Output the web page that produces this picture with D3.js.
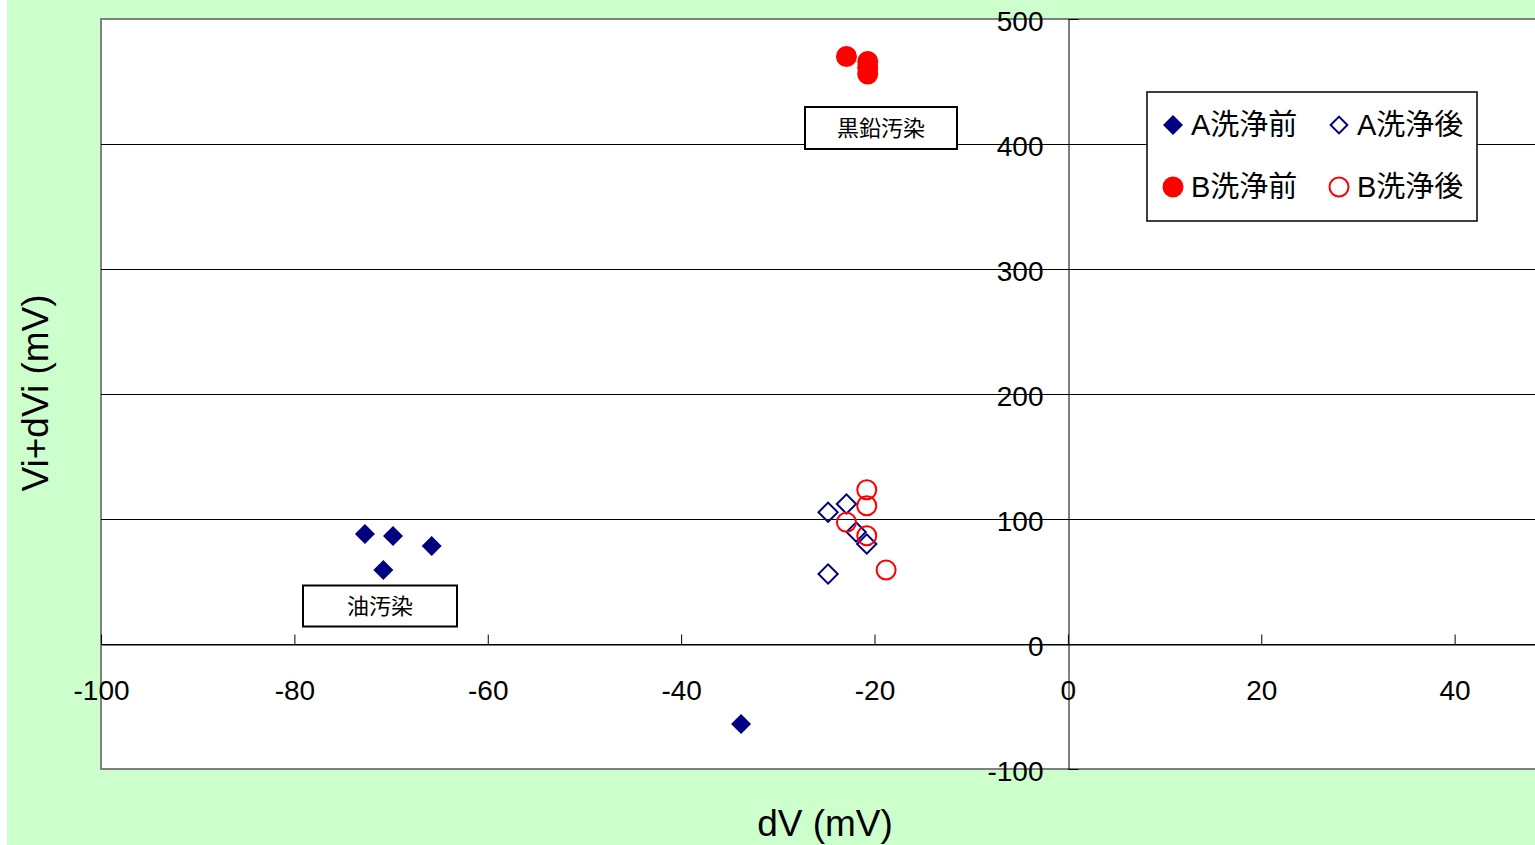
<html>
<head>
<meta charset="utf-8">
<script src="https://d3js.org/d3.v7.min.js"></script>
<style>
  body { margin: 0; background: #fff; overflow: hidden; }
  text { font-family: "Liberation Sans", Arial, "Noto Sans CJK JP", sans-serif; }
</style>
</head>
<body>
<svg id="chart" width="1535" height="845"></svg>
<script>
// data (dV, Vi+dVi)
var aBeforeX = [-72.7, -69.8, -65.8, -70.8, -33.8];
var aBeforeY = [88, 86.4, 78.4, 59.2, -64];
var aAfterX = [-24.8, -22.9, -21.9, -20.8, -24.8];
var aAfterY = [105.4, 112, 89.6, 80, 56];
var bBeforeX = [-22.9, -20.7, -20.7, -20.7];
var bBeforeY = [470, 466, 461, 456];
var bAfterX = [-20.8, -20.8, -22.9, -20.8, -18.8];
var bAfterY = [123.4, 110.6, 97.4, 86.6, 59.2];
var xTicks = [-100, -80, -60, -40, -20, 0, 20, 40];
var yTicks = [-100, 0, 100, 200, 300, 400, 500];
var legendNames = ["A洗浄前", "A洗浄後", "B洗浄前", "B洗浄後"];

var navy = "#000080", red = "#ff0000";
var svg = d3.select("#chart");

// green chart background
svg.append("rect").attr("x", 7).attr("y", 0).attr("width", 1528).attr("height", 845)
  .attr("fill", "#ccffcc");

// x runs to 60, past the right edge of the window
var x = d3.scaleLinear().domain([-100, 60]).range([101, 1648]);
var y = d3.scaleLinear().domain([-100, 500]).range([769, 19]);

// plot area
svg.append("rect").attr("x", x(-100)).attr("y", y(500))
  .attr("width", x(60) - x(-100)).attr("height", y(-100) - y(500))
  .attr("fill", "#fff").attr("stroke", "#808080").attr("stroke-width", 2);

// horizontal grid
svg.append("g").selectAll("line").data(yTicks.filter(function(d) { return d > -100 && d < 500; }))
  .enter().append("line")
  .attr("x1", x(-100)).attr("x2", x(60))
  .attr("y1", function(d) { return Math.round(y(d)) + 0.5; })
  .attr("y2", function(d) { return Math.round(y(d)) + 0.5; })
  .attr("stroke", "#000").attr("stroke-width", 1);

// axes cross at 0
var xAxis = d3.axisBottom(x).tickValues(xTicks).tickSizeInner(-10).tickSizeOuter(0).tickPadding(36)
  .tickFormat(d3.format("d"));
var gx = svg.append("g").attr("transform", "translate(0," + (Math.round(y(0)) + 0.5) + ")").call(xAxis);
var yAxis = d3.axisLeft(y).tickValues(yTicks).tickSizeInner(-10).tickSizeOuter(0).tickPadding(25)
  .tickFormat(d3.format("d"));
var gy = svg.append("g").attr("transform", "translate(" + (Math.round(x(0)) + 0.5) + ",0)").call(yAxis);

[gx, gy].forEach(function(g) {
  g.selectAll("path, line").attr("stroke", "#000").attr("stroke-width", 1);
  g.selectAll("text").attr("font-size", 28).attr("fill", "#000")
    .text(function(d) { return d < 0 ? "-" + Math.abs(d) : d; });
});
gy.selectAll("text").attr("dy", "0.4em");

// axis titles
svg.append("text").attr("x", 825).attr("y", 836).attr("text-anchor", "middle")
  .attr("font-size", 37).text("dV (mV)");
svg.append("text").attr("transform", "translate(48,393) rotate(-90)").attr("text-anchor", "middle")
  .attr("font-size", 37).text("Vi+dVi (mV)");

// markers
function drawDiamonds(xs, ys, filled) {
  svg.append("g").selectAll("path").data(xs).enter().append("path")
    .attr("d", d3.symbol().type(d3.symbolSquare).size(filled ? 200 : 185)())
    .attr("transform", function(d, i) { return "translate(" + x(d) + "," + y(ys[i]) + ") rotate(45)"; })
    .attr("fill", filled ? navy : "none")
    .attr("stroke", navy).attr("stroke-width", filled ? 0 : 2);
}
function drawCircles(xs, ys, filled) {
  svg.append("g").selectAll("circle").data(xs).enter().append("circle")
    .attr("cx", function(d) { return x(d); })
    .attr("cy", function(d, i) { return y(ys[i]); })
    .attr("r", filled ? 10.5 : 9.5)
    .attr("fill", filled ? red : "none")
    .attr("stroke", red).attr("stroke-width", filled ? 0 : 2);
}
drawDiamonds(aBeforeX, aBeforeY, true);
drawDiamonds(aAfterX, aAfterY, false);
drawCircles(bBeforeX, bBeforeY, true);
drawCircles(bAfterX, bAfterY, false);

// annotation boxes
function note(cx, cy, w, h, label) {
  svg.append("rect").attr("x", cx - w / 2).attr("y", cy - h / 2).attr("width", w).attr("height", h)
    .attr("fill", "#fff").attr("stroke", "#000").attr("stroke-width", 2);
  svg.append("text").attr("x", cx).attr("y", cy + 8).attr("text-anchor", "middle")
    .attr("font-size", 22).attr("font-family", "Noto Sans CJK JP").text(label);
}
note(881, 128, 152, 42, "黒鉛汚染");
note(380, 606, 154, 41, "油汚染");

// legend
var lg = svg.append("g");
lg.append("rect").attr("x", 1147).attr("y", 92).attr("width", 330).attr("height", 129)
  .attr("fill", "#fff").attr("stroke", "#000").attr("stroke-width", 1.5);
var lpos = [[1173, 125], [1339, 125], [1173, 187], [1339, 187]];
legendNames.forEach(function(name, i) {
  var p = lpos[i];
  if (i < 2) {
    lg.append("path").attr("d", d3.symbol().type(d3.symbolSquare).size(i == 0 ? 200 : 140)())
      .attr("transform", "translate(" + p[0] + "," + p[1] + ") rotate(45)")
      .attr("fill", i == 0 ? navy : "none").attr("stroke", navy).attr("stroke-width", i == 0 ? 0 : 2);
  } else {
    lg.append("circle").attr("cx", p[0]).attr("cy", p[1]).attr("r", i == 2 ? 10.5 : 9.5)
      .attr("fill", i == 2 ? red : "none").attr("stroke", red).attr("stroke-width", i == 2 ? 0 : 2);
  }
  lg.append("text").attr("x", p[0] + 18).attr("y", p[1] + 10).attr("font-size", 29).text(name);
});
</script>
</body>
</html>
